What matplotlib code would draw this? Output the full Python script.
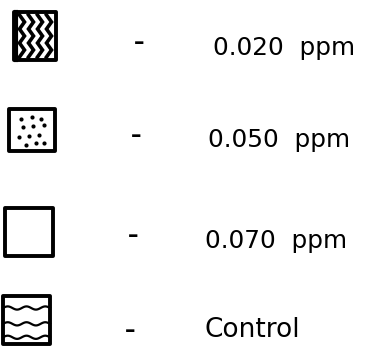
import matplotlib
matplotlib.use("Agg")
import matplotlib.pyplot as plt
from matplotlib.patches import Rectangle
import numpy as np

# legend entries (top to bottom)
labels = ["0.020  ppm", "0.050  ppm", "0.070  ppm", "Control"]
patterns = ["zigzag", "dots", "blank", "waves"]

# dot pattern positions inside the 0.050 ppm box (fraction of box)
dot_fx = [0.25, 0.49, 0.69, 0.30, 0.53, 0.75, 0.22, 0.44, 0.66, 0.37, 0.58, 0.77]
dot_fy = [0.24, 0.20, 0.23, 0.43, 0.40, 0.37, 0.66, 0.64, 0.62, 0.85, 0.82, 0.81]

fig = plt.figure(figsize=(3.68, 3.48), dpi=100)
ax = fig.add_axes([0, 0, 1, 1])
ax.set_xlim(0, 368)
ax.set_ylim(348, 0)
ax.axis("off")

# layout in pixels (the scan drifts slightly left going down)
boxes = [(14, 12, 42, 48), (9, 109, 46, 42), (5, 208, 48, 48), (3, 296, 47, 48)]
dash_x = [139, 136, 133, 130]
dash_y = [43, 136, 236, 331]
text_x = [213, 208, 205, 205]
text_y = [55, 147, 248, 337]

for i, (lab, pat) in enumerate(zip(labels, patterns)):
    x0, y0, w, h = boxes[i]
    ax.add_patch(Rectangle((x0, y0), w, h, fill=False, edgecolor="black",
                           linewidth=2.8, joinstyle="round", zorder=3))
    if pat == "zigzag":
        for k in range(4):
            cx = x0 + 8 + k * 9
            zy = np.linspace(y0 + 3, y0 + h - 3, 7)
            zx = cx + np.array([-2.5, 2.5] * 3 + [-2.5])
            ax.plot(zx, zy, color="black", linewidth=2.6, solid_joinstyle="miter")
        ax.plot([x0 + 2, x0 + 2], [y0, y0 + h], color="black", linewidth=3)
    elif pat == "dots":
        ax.scatter([x0 + f * w for f in dot_fx], [y0 + f * h for f in dot_fy],
                   s=9, color="black", linewidths=0)
    elif pat == "waves":
        t = np.linspace(x0, x0 + w, 80)
        for f in [0.25, 0.58, 0.86]:
            ax.plot(t, y0 + f * h - 1.6 * np.sin((t - x0) / w * 5 * np.pi),
                    color="black", linewidth=1.6)

    ax.text(dash_x[i], dash_y[i], "\u2013", fontsize=15, fontweight="bold",
            ha="center", va="center", family="DejaVu Sans")
    ax.text(text_x[i], text_y[i], lab, fontsize=19 if lab == "Control" else 17.8,
            ha="left", va="baseline", family="DejaVu Sans")

fig.savefig("out.png", dpi=100)
